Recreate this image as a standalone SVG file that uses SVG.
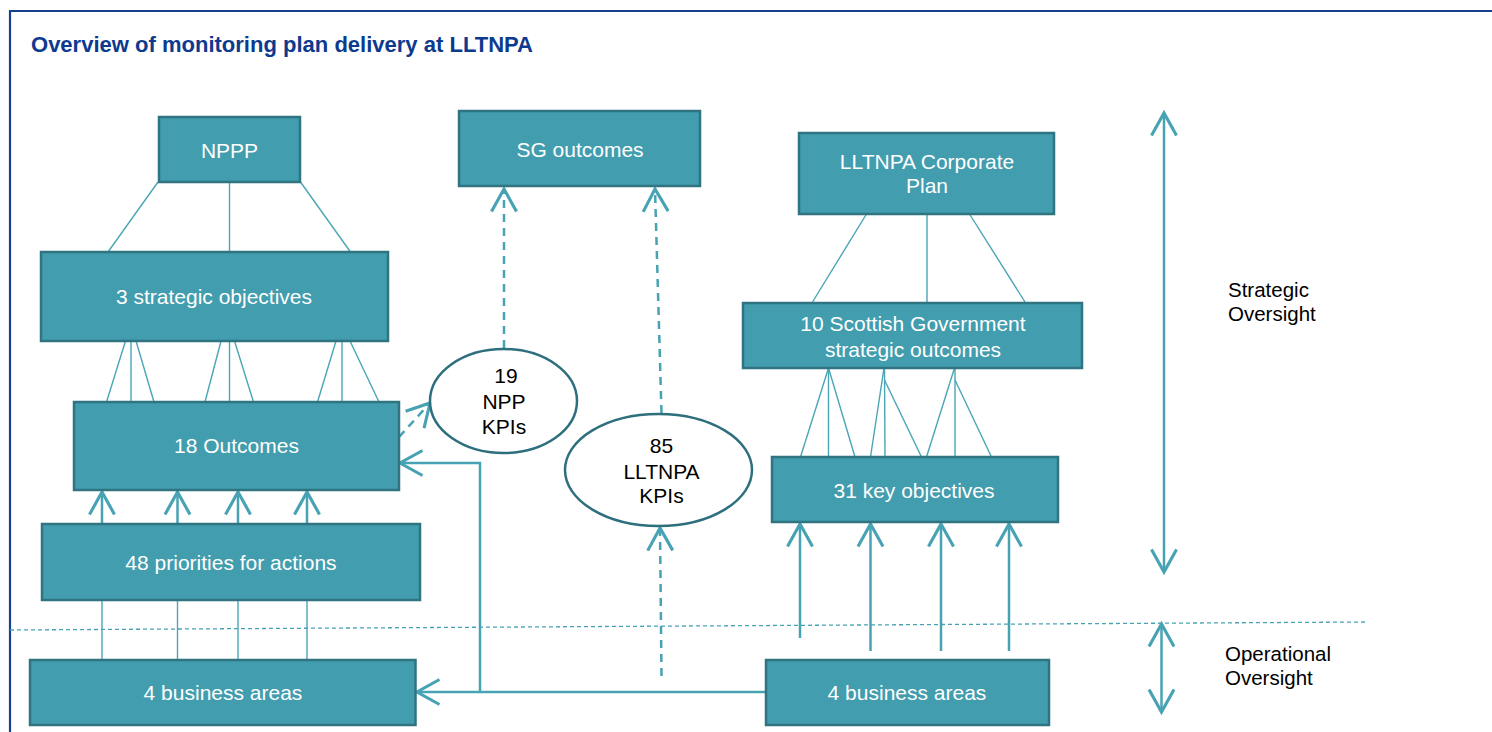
<svg xmlns="http://www.w3.org/2000/svg" width="1492" height="732" viewBox="0 0 1492 732">
  <style>
    .box { fill: #429DAE; stroke: #2F7480; stroke-width: 2.5; }
    .btxt { font-family: "Liberation Sans", Arial, sans-serif; font-size: 21px; fill: #FFFFFF; text-anchor: middle; }
    .ktxt { font-family: "Liberation Sans", Arial, sans-serif; font-size: 21px; fill: #000000; text-anchor: middle; }
    .ltxt { font-family: "Liberation Sans", Arial, sans-serif; font-size: 20.5px; fill: #000000; }
    .kpi { fill: #FFFFFF; stroke: #2E6F7D; stroke-width: 2.5; }
    .thin { stroke: #4AA5B5; stroke-width: 1.4; fill: none; }
    .arr { stroke: #47A3B3; stroke-width: 2.5; fill: none; marker-end: url(#head); }
    .dash { stroke: #47A3B3; stroke-width: 2.5; fill: none; stroke-dasharray: 8 6; marker-end: url(#head); }
    .both { stroke: #47A3B3; stroke-width: 2.5; fill: none; marker-start: url(#head); marker-end: url(#head); }
    .split { stroke: #47A3B3; stroke-width: 1.3; fill: none; stroke-dasharray: 4 3; }
  </style>
  <defs>
    <marker id="head" markerUnits="userSpaceOnUse" markerWidth="30" markerHeight="30" viewBox="-20 -12 22 24" refX="0" refY="0" orient="auto-start-reverse">
      <path d="M -18 -10 L 0 0 L -18 10" fill="none" stroke="#47A3B3" stroke-width="2.5"/>
    </marker>
  </defs>

  <rect width="1492" height="732" fill="#FFFFFF"/>

  <!-- frame -->
  <path d="M 10 732 L 10 11 L 1492 11" fill="none" stroke="#15418F" stroke-width="2.2"/>
  <text x="31" y="52" font-family="Liberation Sans, Arial, sans-serif" font-size="21.5" font-weight="bold" fill="#0D3A8E" textLength="502" lengthAdjust="spacingAndGlyphs">Overview of monitoring plan delivery at LLTNPA</text>

  <!-- strategic / operational divider -->
  <line class="split" x1="10" y1="630" x2="1366" y2="622"/>

  <!-- connectors -->
  <g id="connectors">
    <!-- NPPP to strategic objectives -->
    <line class="thin" x1="158" y1="182" x2="108" y2="252"/>
    <line class="thin" x1="229.5" y1="182" x2="229.5" y2="252"/>
    <line class="thin" x1="300.5" y1="182" x2="350.5" y2="252"/>
    <!-- strategic objectives to outcomes -->
    <line class="thin" x1="125.5" y1="341" x2="106.5" y2="402"/>
    <line class="thin" x1="131" y1="341" x2="131" y2="402"/>
    <line class="thin" x1="136" y1="341" x2="154" y2="402"/>
    <line class="thin" x1="221" y1="341" x2="205" y2="402"/>
    <line class="thin" x1="229.5" y1="341" x2="229.5" y2="402"/>
    <line class="thin" x1="234.5" y1="341" x2="253.5" y2="402"/>
    <line class="thin" x1="336" y1="341" x2="317.5" y2="402"/>
    <line class="thin" x1="342" y1="341" x2="342" y2="402"/>
    <line class="thin" x1="350" y1="341" x2="379" y2="402"/>
    <!-- corporate plan to SG strategic outcomes -->
    <line class="thin" x1="866.5" y1="214" x2="812.5" y2="302"/>
    <line class="thin" x1="927" y1="214" x2="927" y2="302"/>
    <line class="thin" x1="969.5" y1="214" x2="1025" y2="302"/>
    <!-- SG strategic outcomes to key objectives -->
    <line class="thin" x1="828.5" y1="368" x2="800.5" y2="457"/>
    <line class="thin" x1="828.5" y1="368" x2="828.5" y2="457"/>
    <line class="thin" x1="828.5" y1="368" x2="855" y2="457"/>
    <line class="thin" x1="884" y1="368" x2="870.5" y2="457"/>
    <line class="thin" x1="884.5" y1="368" x2="885" y2="457"/>
    <line class="thin" x1="884.5" y1="380" x2="921.5" y2="457"/>
    <line class="thin" x1="954.5" y1="368" x2="926.5" y2="457"/>
    <line class="thin" x1="955" y1="368" x2="955" y2="457"/>
    <line class="thin" x1="955" y1="380" x2="991.5" y2="457"/>

    <!-- left business areas up to priorities (plain) -->
    <line class="thin" x1="102" y1="660" x2="102" y2="601" stroke-width="2"/>
    <line class="thin" x1="177.5" y1="660" x2="177.5" y2="601" stroke-width="2"/>
    <line class="thin" x1="238" y1="660" x2="238" y2="601" stroke-width="2"/>
    <line class="thin" x1="307" y1="660" x2="307" y2="601" stroke-width="2"/>
    <!-- priorities up to outcomes -->
    <line class="arr" x1="102" y1="524" x2="102" y2="492"/>
    <line class="arr" x1="177.5" y1="524" x2="177.5" y2="492"/>
    <line class="arr" x1="238" y1="524" x2="238" y2="492"/>
    <line class="arr" x1="307" y1="524" x2="307" y2="492"/>

    <!-- right business areas up to key objectives -->
    <line class="arr" x1="800" y1="638" x2="800" y2="524"/>
    <line class="arr" x1="870.5" y1="651" x2="870.5" y2="524"/>
    <line class="arr" x1="941" y1="651" x2="941" y2="524"/>
    <line class="arr" x1="1009" y1="651" x2="1009" y2="524"/>

    <!-- right business areas feeding left side -->
    <path class="arr" d="M 766 692 L 417 692"/>
    <path class="arr" stroke-width="2" d="M 480 692 L 480 463 L 400 463"/>

    <!-- KPI reporting links -->
    <line class="dash" x1="399" y1="437" x2="430" y2="403"/>
    <line class="dash" x1="504" y1="348" x2="504" y2="189"/>
    <line class="dash" x1="661.5" y1="413" x2="655" y2="189"/>
    <line class="dash" x1="661.5" y1="676" x2="660" y2="528"/>

    <!-- oversight ranges -->
    <line class="both" x1="1164" y1="113" x2="1164" y2="572"/>
    <line class="both" x1="1161.5" y1="624" x2="1161.5" y2="712"/>
  </g>

  <!-- nodes -->
  <g id="nppp">
    <rect class="box" x="159" y="117" width="141" height="65"/>
    <text class="btxt" x="229.5" y="158">NPPP</text>
  </g>
  <g id="strategic-objectives">
    <rect class="box" x="41" y="252" width="347" height="89"/>
    <text class="btxt" x="214" y="304">3 strategic objectives</text>
  </g>
  <g id="outcomes">
    <rect class="box" x="74" y="402" width="325" height="88"/>
    <text class="btxt" x="236.5" y="453">18 Outcomes</text>
  </g>
  <g id="priorities">
    <rect class="box" x="42" y="524" width="378" height="76"/>
    <text class="btxt" x="231" y="570">48 priorities for actions</text>
  </g>
  <g id="business-areas-left">
    <rect class="box" x="30" y="660" width="385.5" height="65"/>
    <text class="btxt" x="223" y="700">4 business areas</text>
  </g>
  <g id="sg-outcomes">
    <rect class="box" x="459" y="111" width="241" height="75"/>
    <text class="btxt" x="580" y="157">SG outcomes</text>
  </g>
  <g id="npp-kpis">
    <ellipse class="kpi" cx="503.5" cy="401" rx="73.5" ry="52"/>
    <text class="ktxt" x="506" y="383">19</text>
    <text class="ktxt" x="504" y="409">NPP</text>
    <text class="ktxt" x="504" y="434">KPIs</text>
  </g>
  <g id="lltnpa-kpis">
    <ellipse class="kpi" cx="658.5" cy="470" rx="93.5" ry="56"/>
    <text class="ktxt" x="661.5" y="453">85</text>
    <text class="ktxt" x="661.5" y="479">LLTNPA</text>
    <text class="ktxt" x="661.5" y="503">KPIs</text>
  </g>
  <g id="corporate-plan">
    <rect class="box" x="799" y="133" width="255" height="81"/>
    <text class="btxt" x="927" y="169">LLTNPA Corporate</text>
    <text class="btxt" x="927" y="193">Plan</text>
  </g>
  <g id="sg-strategic-outcomes">
    <rect class="box" x="743" y="303" width="339" height="65"/>
    <text class="btxt" x="913" y="331">10 Scottish Government</text>
    <text class="btxt" x="913" y="357">strategic outcomes</text>
  </g>
  <g id="key-objectives">
    <rect class="box" x="772" y="457" width="286" height="65"/>
    <text class="btxt" x="914" y="498">31 key objectives</text>
  </g>
  <g id="business-areas-right">
    <rect class="box" x="766" y="660" width="283" height="65"/>
    <text class="btxt" x="907" y="700">4 business areas</text>
  </g>

  <!-- oversight labels -->
  <text class="ltxt" x="1228" y="297">Strategic</text>
  <text class="ltxt" x="1228" y="321">Oversight</text>
  <text class="ltxt" x="1225" y="661">Operational</text>
  <text class="ltxt" x="1225" y="685">Oversight</text>
</svg>
